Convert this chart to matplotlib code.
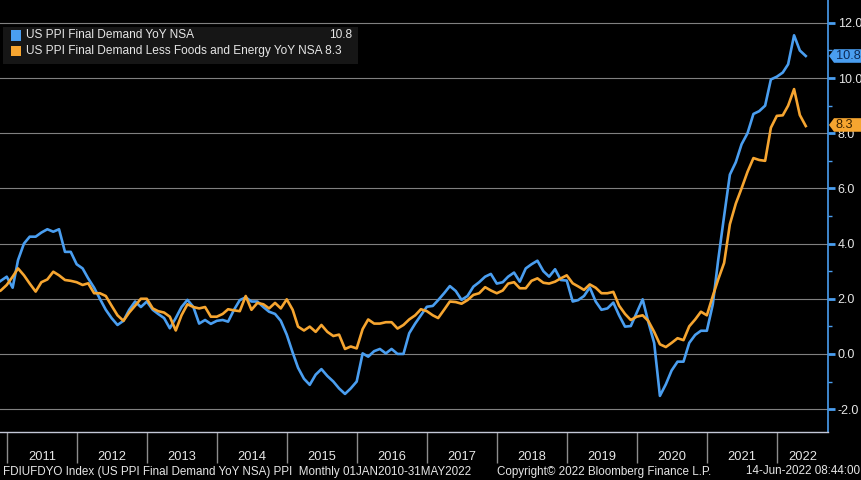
import matplotlib
matplotlib.use('Agg')
import matplotlib.pyplot as plt
import matplotlib.dates as mdates
import matplotlib.ticker as ticker
import matplotlib.transforms as mtransforms
from matplotlib.patches import Polygon, Rectangle
from matplotlib import font_manager
import pandas as pd

# month-end readings, Sep 2010 .. May 2022
ppi_fd = [
    2.4, 2.5, 2.65,                                                    # 2010 Sep-Nov
    2.8, 2.4, 3.4, 4.0, 4.25, 4.25, 4.4, 4.52, 4.43, 4.52, 3.7, 3.7,    # Dec10-Nov11
    3.25, 3.1, 2.74, 2.4, 2.0, 1.6, 1.3, 1.05, 1.2, 1.6, 1.9, 1.7,
    1.9, 1.6, 1.45, 1.3, 0.93, 1.3, 1.7, 1.96, 1.7, 1.1, 1.23, 1.09,
    1.2, 1.23, 1.17, 1.6, 1.95, 2.05, 1.9, 1.9, 1.7, 1.53, 1.45, 1.2,
    0.7, 0.05, -0.5, -0.9, -1.12, -0.75, -0.55, -0.8, -1.0, -1.25, -1.45, -1.25,
    -1.0, 0.02, -0.1, 0.1, 0.18, 0.02, 0.18, 0.0, 0.0, 0.75, 1.1, 1.4,
    1.71, 1.74, 1.95, 2.2, 2.46, 2.28, 1.96, 2.1, 2.44, 2.6, 2.8, 2.9,
    2.55, 2.6, 2.8, 2.95, 2.62, 3.1, 3.25, 3.38, 3.0, 2.8, 3.07, 2.68,
    2.66, 1.9, 1.95, 2.1, 2.41, 1.9, 1.6, 1.65, 1.86, 1.4, 0.99, 1.01,
    1.5, 1.98, 1.17, 0.4, -1.52, -1.1, -0.6, -0.28, -0.28, 0.4, 0.69, 0.84,
    0.84, 1.8, 3.4, 5.0, 6.5, 6.95, 7.6, 8.0, 8.7, 8.8, 9.0, 9.95,
    10.05, 10.2, 10.5, 11.55, 11.0, 10.8,                              # Dec21-May22
]
ppi_core = [
    2.3, 2.2, 2.3,
    2.5, 2.8, 3.1, 2.85, 2.55, 2.26, 2.6, 2.7, 2.98, 2.85, 2.68, 2.65,
    2.6, 2.5, 2.56, 2.2, 2.2, 2.1, 1.75, 1.4, 1.2, 1.5, 1.75, 2.0,
    2.0, 1.65, 1.55, 1.5, 1.35, 0.85, 1.4, 1.8, 1.7, 1.65, 1.7, 1.35,
    1.35, 1.45, 1.62, 1.58, 1.55, 2.1, 1.6, 1.85, 1.8, 1.65, 1.85, 1.65,
    1.98, 1.6, 0.99, 0.85, 0.99, 0.8, 1.05, 0.8, 0.65, 0.7, 0.18, 0.27,
    0.2, 0.9, 1.25, 1.1, 1.1, 1.15, 1.15, 0.92, 1.05, 1.25, 1.4, 1.62,
    1.55, 1.4, 1.3, 1.6, 1.9, 1.88, 1.82, 1.95, 2.14, 2.2, 2.42, 2.3,
    2.2, 2.3, 2.55, 2.6, 2.38, 2.38, 2.65, 2.74, 2.58, 2.55, 2.62, 2.74,
    2.85, 2.56, 2.45, 2.32, 2.52, 2.4, 2.2, 2.2, 2.25, 1.75, 1.45, 1.23,
    1.35, 1.4, 1.2, 0.8, 0.35, 0.25, 0.4, 0.57, 0.5, 1.0, 1.25, 1.53,
    1.4, 2.1, 2.7, 3.3, 4.7, 5.45, 6.0, 6.6, 7.1, 7.03, 7.0, 8.2,
    8.63, 8.65, 9.0, 9.6, 8.66, 8.26,
]
dates = pd.date_range('2010-09-30', periods=len(ppi_fd), freq='ME')

name_fd = 'US PPI Final Demand YoY NSA'
name_core = 'US PPI Final Demand Less Foods and Energy YoY NSA'
last_fd = '10.8'
last_core = '8.3'
years = list(range(2011, 2023))
y_ticks = [-2, 0, 2, 4, 6, 8, 10, 12]

footer_left = ('FDIUFDYO Index (US PPI Final Demand YoY NSA) PPI  '
               'Monthly 01JAN2010-31MAY2022')
footer_mid = 'Copyright\u00a9 2022 Bloomberg Finance L.P.'
footer_right = '14-Jun-2022 08:44:00'

BLUE = '#4a9ef0'
ORANGE = '#f6a530'
TEXT = '#e6e6e6'

installed = {f.name for f in font_manager.fontManager.ttflist}
if 'Liberation Sans Narrow' in installed:
    narrow, nscale = 'Liberation Sans Narrow', 1.0
else:
    narrow, nscale = 'Liberation Sans', 0.93
plt.rcParams['font.family'] = ['Liberation Sans', 'DejaVu Sans']

W, H = 862, 480
fig = plt.figure(figsize=(W / 100, H / 100), dpi=100, facecolor='black')
ax = fig.add_axes([0, 48 / H, 828 / W, 432 / H], facecolor='black')

ax.plot(dates, ppi_fd, color=BLUE, lw=1.9, zorder=3)
ax.plot(dates, ppi_core, color=ORANGE, lw=1.9, zorder=3)

x0 = pd.Timestamp('2010-11-26')
x1 = pd.Timestamp('2022-09-24')
ax.set_xlim(x0, x1)
ymin, ymax = -2.83, 12.83
ax.set_ylim(ymin, ymax)

# y axis on the right
ax.yaxis.tick_right()
ax.yaxis.set_major_locator(ticker.FixedLocator(y_ticks))
ax.yaxis.set_minor_locator(ticker.MultipleLocator(1))
ax.yaxis.set_major_formatter(ticker.FuncFormatter(lambda v, _: f'{v:.1f}'))
ax.tick_params(axis='y', which='major', colors=BLUE, length=5, width=2,
               labelcolor=TEXT, labelsize=9, pad=2)
ax.tick_params(axis='y', which='minor', colors=BLUE, length=3, width=1)
ax.grid(axis='y', which='major', color='#808080', lw=0.8)

# x axis: year separators and centred year labels
ax.xaxis.set_major_locator(mdates.YearLocator())
ax.xaxis.set_major_formatter(ticker.NullFormatter())
mids = []
for yr in years:
    a = max(pd.Timestamp(f'{yr}-01-01'), x0)
    b = min(pd.Timestamp(f'{yr + 1}-01-01'), x1)
    mids.append(mdates.date2num(a) + (mdates.date2num(b) - mdates.date2num(a)) / 2)
ax.xaxis.set_minor_locator(ticker.FixedLocator(mids))
ax.xaxis.set_minor_formatter(ticker.FixedFormatter([str(y) for y in years]))
ax.tick_params(axis='x', which='major', direction='out', length=22,
               width=1, color='#8c8c8c')
ax.tick_params(axis='x', which='minor', length=0, pad=14, labelcolor=TEXT,
               labelsize=10 * nscale)
for lab in ax.xaxis.get_minorticklabels():
    lab.set_family(narrow)

for side in ('top', 'left'):
    ax.spines[side].set_visible(False)
ax.spines['right'].set_color(BLUE)
ax.spines['right'].set_linewidth(1.2)
ax.spines['bottom'].set_color('#c4c8d8')
ax.spines['bottom'].set_linewidth(1)

# legend box
def fx(px):
    return px / W


def fy(py):
    return 1 - py / H


fig.patches.append(Rectangle((fx(3), fy(64)), fx(355), 37 / H,
                             transform=fig.transFigure, facecolor='#161616',
                             edgecolor='none', zorder=5))
for row, (col, name, val) in enumerate([(BLUE, name_fd, last_fd),
                                        (ORANGE, name_core, last_core)]):
    yc = 35.5 + row * 15.5
    fig.patches.append(Rectangle((fx(11), fy(yc + 5)), fx(10), 10 / H,
                                 transform=fig.transFigure, facecolor=col,
                                 edgecolor='none', zorder=6))
    if row == 0:
        fig.text(fx(26), fy(yc), name, color=TEXT, fontsize=8.6,
                 va='center', zorder=7)
        fig.text(fx(352), fy(yc), val, color=TEXT, fontsize=8.6,
                 va='center', ha='right', zorder=7)
    else:
        fig.text(fx(26), fy(yc), f'{name} {val}', color=TEXT, fontsize=8.6,
                 va='center', zorder=7)

# last value tags on the right axis
trans = mtransforms.blended_transform_factory(ax.transAxes, ax.transData)
unit_px = 432 / (ymax - ymin)
hh = 6.8 / unit_px
for val, col, tcol in [(float(last_fd), BLUE, '#0d2a55'),
                       (float(last_core), ORANGE, '#3a2200')]:
    pts = [(1.0 + 1 / 828, val), (1.0 + 6 / 828, val + hh),
           (1.0 + 40 / 828, val + hh), (1.0 + 40 / 828, val - hh),
           (1.0 + 6 / 828, val - hh)]
    ax.add_patch(Polygon(pts, closed=True, transform=trans, facecolor=col,
                         edgecolor='none', clip_on=False, zorder=10))
    ax.text(1.0 + 8 / 828, val, f'{val:.1f}', transform=trans, color=tcol,
            fontsize=9.2, va='center', ha='left', zorder=11, clip_on=False)

# footer
fy_foot = fy(471.5)
fsize = 9 * nscale
fig.text(fx(3), fy_foot, footer_left, color=TEXT, fontsize=fsize,
         family=narrow, va='center')
fig.text(fx(497), fy_foot, footer_mid, color=TEXT, fontsize=fsize,
         family=narrow, va='center')
fig.text(fx(860), fy_foot, footer_right, color=TEXT, fontsize=fsize,
         family=narrow, va='center', ha='right')

fig.savefig('out.png', dpi=100, facecolor='black')
